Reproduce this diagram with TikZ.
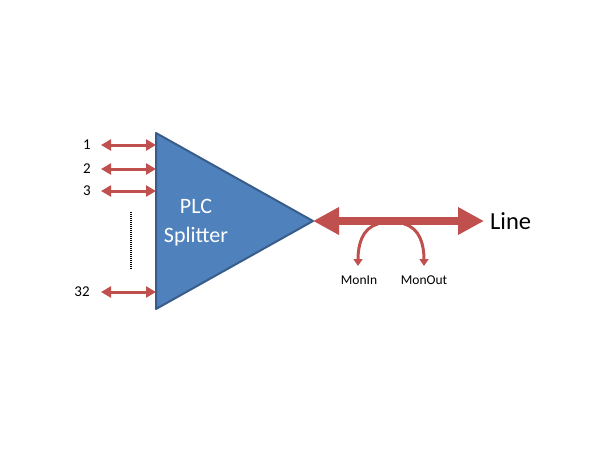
\documentclass[tikz,border=0pt]{standalone}
\usepackage{fontspec}
\setmainfont{Carlito}
\usetikzlibrary{arrows.meta}
\definecolor{arrred}{HTML}{C0504D}
\definecolor{triblue}{HTML}{4F81BD}
\definecolor{triedge}{HTML}{385D8A}
\begin{document}
\begin{tikzpicture}[x=1pt,y=-1pt,
  port/.style={line width=3pt,draw=arrred,{Triangle[length=10pt,width=11pt]}-{Triangle[length=10pt,width=11pt]}},
  mon/.style={line width=3pt,draw=arrred,-{Triangle[length=7pt,width=9pt]}},
  lbl/.style={inner sep=0pt,font=\fontsize{15}{17}\selectfont},
  mlbl/.style={inner sep=0pt,font=\fontsize{13.5}{16}\selectfont}]
\useasboundingbox (0,0) rectangle (610,450);
% triangle
\coordinate (tl) at (156,133);
\coordinate (bl) at (156,309);
\coordinate (apex) at (313,221);
\filldraw[fill=triblue,draw=triedge,line width=2pt,line join=round] (tl) -- (apex) -- (bl) -- cycle;
\node[text=white,align=center,font=\fontsize{22}{29}\selectfont] (plc) at (196,223) {PLC\\Splitter};
% ports
\foreach \n/\y/\t/\lx in {p1/145/1/87,p2/169/2/87,p3/191/3/87,p32/292/32/82}{
  \node[lbl] (l\n) at (\lx,\y) {\t};
  \coordinate (a\n) at (101,\y);
  \coordinate (b\n) at (156,\y);
  \draw[port] (a\n) -- (b\n);
}
\coordinate (d1) at (131,212);
\coordinate (d2) at (131,270);
\draw[line width=1.5pt,dash pattern=on 1pt off 1pt] (d1) -- (d2);
% line arrow
\coordinate (le) at (484,221);
\draw[line width=8pt,draw=arrred,{Triangle[length=26pt,width=26pt]}-{Triangle[length=26pt,width=26pt]}] (apex) -- (le);
\node[anchor=west,inner sep=0pt,font=\fontsize{24.5}{28}\selectfont] (line) at (490,221) {Line};
% monitor arrows
\coordinate (mi0) at (378,224);
\coordinate (mi1) at (358,266);
\coordinate (mo0) at (404,224);
\coordinate (mo1) at (424,266);
\draw[mon] (mi0) .. controls (362,228) and (358,245) .. (mi1);
\draw[mon] (mo0) .. controls (420,228) and (424,245) .. (mo1);
\node[mlbl] (monin) at (359,280) {MonIn};
\node[mlbl] (monout) at (424,280) {MonOut};
\end{tikzpicture}
\end{document}
